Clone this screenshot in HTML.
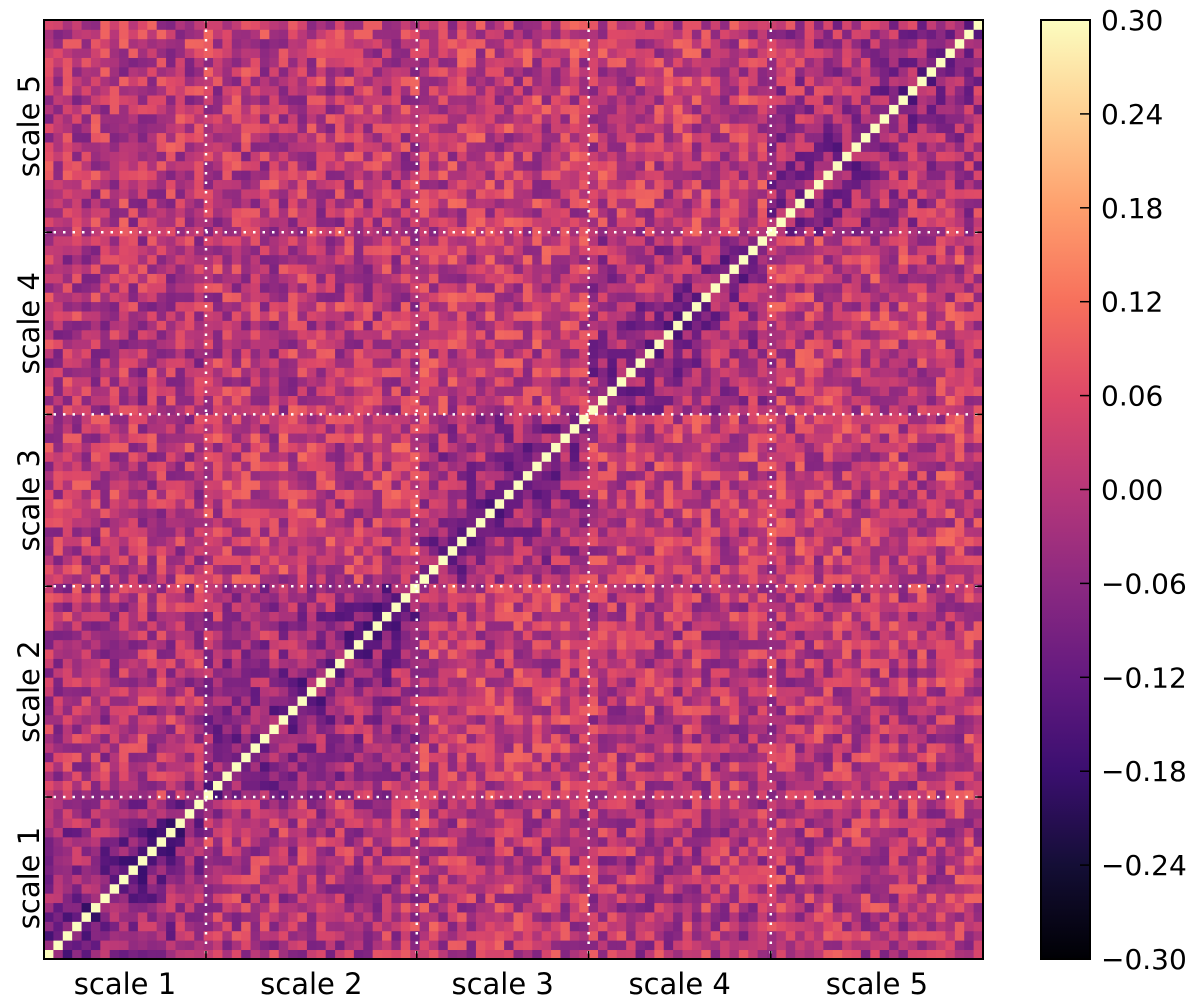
<!DOCTYPE html>
<html><head><meta charset="utf-8"><style>
body{margin:0;background:#fff;}
svg{display:block;font-family:"DejaVu Sans","Liberation Sans",sans-serif;}
</style></head><body>
<svg id="chart" width="1200" height="999">
<defs><linearGradient id="magma" x1="0" y1="1" x2="0" y2="0">
<stop offset="0" stop-color="#000004"/><stop offset="0.1" stop-color="#140e36"/><stop offset="0.2" stop-color="#3b0f70"/><stop offset="0.3" stop-color="#641a80"/><stop offset="0.4" stop-color="#8c2981"/><stop offset="0.5" stop-color="#b73779"/><stop offset="0.6" stop-color="#de4968"/><stop offset="0.7" stop-color="#f7705c"/><stop offset="0.8" stop-color="#fe9f6d"/><stop offset="0.9" stop-color="#fecf92"/><stop offset="1" stop-color="#fcfdbf"/>
</linearGradient></defs>
<g id="cells"></g>
<g id="overlay"></g>
</svg>
<script>
const N = 100;
const blockBounds = [0, 17, 40, 58, 77, 100];
const lineFrac = [0.1725, 0.397, 0.580, 0.774];
const scaleLabels = ["scale 1", "scale 2", "scale 3", "scale 4", "scale 5"];
const blockMeans = [
  [-0.02, 0.0, 0.01, 0.0, 0.01],
  [0.0, -0.01, 0.02, 0.01, 0.01],
  [0.01, 0.02, -0.005, 0.02, 0.02],
  [0.0, 0.01, 0.02, -0.005, 0.02],
  [0.01, 0.01, 0.02, 0.02, -0.005]
];
const diagDip = [-0.1, -0.1, -0.09, -0.08, -0.08];
const diagValue = [0.3];
const cbTicks = [-0.30, -0.24, -0.18, -0.12, -0.06, 0.00, 0.06, 0.12, 0.18, 0.24, 0.30];
const vmin = -0.3, vmax = 0.3;

const L = 44, T = 20, W = 939, H = 939;
const xS = j => L + j * W / N;
const yS = i => T + H - i * H / N;
const stops = [[0,0,4],[20,14,54],[59,15,112],[100,26,128],[140,41,129],[183,55,121],[222,73,104],[247,112,92],[254,159,109],[254,207,146],[252,253,191]];
function magma(v){
  let t = Math.max(0, Math.min(1, (v - vmin) / (vmax - vmin))) * 10;
  let k = Math.min(9, Math.floor(t)), f = t - k;
  const a = stops[k], b = stops[k+1];
  return `rgb(${a.map((c,q)=>Math.round(c+(b[q]-c)*f)).join(',')})`;
}
function texture(a,b){
  let s = Math.sin((Math.min(a,b)*127.1 + Math.max(a,b)*311.7)) * 43758.5453;
  return (s - Math.floor(s)) - 0.5;
}
const blk = i => { for (let b=0;b<5;b++) if (i < blockBounds[b+1]) return b; return 4; };
const NS = "http://www.w3.org/2000/svg";
const g = document.getElementById('cells');
const cw = W / N;
for (let i=0;i<N;i++) for (let j=0;j<N;j++){
  let v;
  if (i===j) v = diagValue[0];
  else {
    const bi = blk(i), bj = blk(j);
    v = blockMeans[bi][bj] + 0.19 * texture(i,j);
    if (bi===bj) v += diagDip[bi] * Math.exp(-Math.abs(i-j)/5);
  }
  const r = document.createElementNS(NS,'rect');
  r.setAttribute('x', xS(j)); r.setAttribute('y', yS(i+1));
  r.setAttribute('width', cw+0.4); r.setAttribute('height', cw+0.4);
  r.setAttribute('fill', magma(v));
  
  
  g.appendChild(r);
}
let html = '';
lineFrac.forEach((f,k)=>{
  const x = L + f*W, y = T + H - f*H;
  html += `<line x1="${x}" y1="${T}" x2="${x}" y2="${T+H}" stroke="#fff" stroke-width="2.5" stroke-dasharray="2.5,7"/>`;
  html += `<line x1="${L}" y1="${y}" x2="${L+W}" y2="${y}" stroke="#fff" stroke-width="2.5" stroke-dasharray="2.5,7"/>`;
  html += `<line x1="${x}" y1="${T+H}" x2="${x}" y2="${T+H-8}" stroke="#000" stroke-width="1.5"/><line x1="${x}" y1="${T}" x2="${x}" y2="${T+8}" stroke="#000" stroke-width="1.5"/>`;
  html += `<line x1="${L}" y1="${y}" x2="${L+8}" y2="${y}" stroke="#000" stroke-width="1.5"/><line x1="${L+W}" y1="${y}" x2="${L+W-8}" y2="${y}" stroke="#000" stroke-width="1.5"/>`;
});
const edges = [0, ...lineFrac, 1];
scaleLabels.forEach((s,k)=>{
  const c = (edges[k]+edges[k+1])/2;
  const x = L + c*W, y = T + H - c*H;
  html += `<text x="${x}" y="994" font-size="29" text-anchor="middle">${s}</text>`;
  html += `<text x="39" y="${y}" font-size="29" text-anchor="middle" transform="rotate(-90 39 ${y})">${s}</text>`;
});
html += `<rect x="${L}" y="${T}" width="${W}" height="${H}" fill="none" stroke="#000" stroke-width="2"/>`;
const cbx = 1041, cbw = 49;
html += `<rect x="${cbx}" y="${T}" width="${cbw}" height="${H}" fill="url(#magma)" stroke="#000" stroke-width="2"/>`;
cbTicks.forEach(t=>{
  const y = T + H - (t - vmin)/(vmax-vmin)*H;
  html += `<line x1="${cbx+cbw-10}" y1="${y}" x2="${cbx+cbw}" y2="${y}" stroke="#000" stroke-width="1.5"/>`;
  const lbl = (t<0?'\u2212':'') + Math.abs(t).toFixed(2);
  html += `<text x="1101" y="${y+10}" font-size="28">${lbl}</text>`;
});
document.getElementById('overlay').innerHTML = html;
</script>
</body></html>
